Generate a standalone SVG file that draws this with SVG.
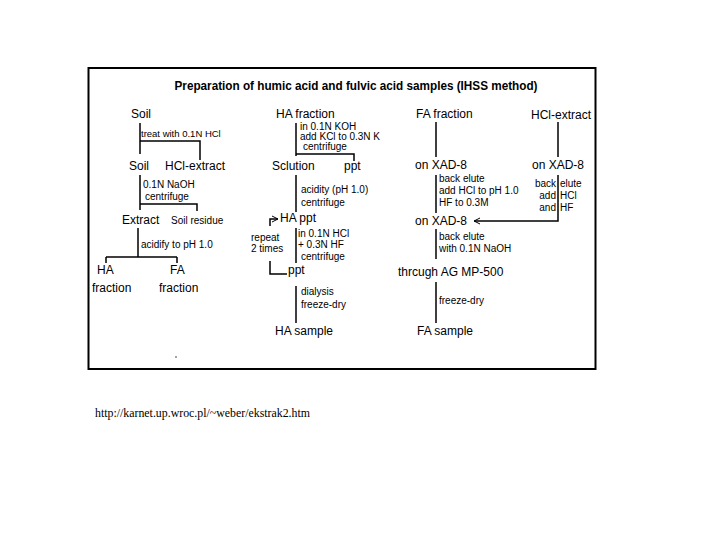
<svg xmlns="http://www.w3.org/2000/svg" width="720" height="540" viewBox="0 0 720 540">
<defs>
<style>
text{font-family:"Liberation Sans",Arial,sans-serif;fill:#000}
.t{font-size:12px}
.s{font-size:10px}
.xs{font-size:9.5px}
.ttl{font-size:12px;font-weight:bold}
.url{font-family:"Liberation Serif","Times New Roman",serif;font-size:12px}
.ln{stroke:#000;stroke-width:1.5;fill:none}
</style>
<marker id="ah" markerWidth="8" markerHeight="8" refX="7" refY="4" orient="auto" markerUnits="userSpaceOnUse">
<path d="M1,1 L7,4 L1,7" fill="none" stroke="#000" stroke-width="1"/>
</marker>
</defs>
<rect width="720" height="540" fill="#fff"/>
<rect x="88.5" y="68" width="507" height="301" fill="none" stroke="#000" stroke-width="2"/>
<text class="ttl" x="356" y="90" text-anchor="middle" textLength="363" lengthAdjust="spacingAndGlyphs">Preparation of humic acid and fulvic acid samples (IHSS method)</text>

<g id="connectors">
<path class="ln" d="M140,123 V154 M140,141 H200 V160"/>
<path class="ln" d="M140,175 V210 M140,204 H197 V211"/>
<path class="ln" d="M138,228 V257 M106,257 H177 M106,257 V263 M177,257 V263"/>
<path class="ln" d="M296,123 V156 M296,154 H354 V161"/>
<path class="ln" d="M296,175 V212"/>
<path class="ln" d="M270,226 V219 H278" marker-end="url(#ah)"/>
<path class="ln" d="M296,228 V263"/>
<path class="ln" d="M270,261 V274 H287"/>
<path class="ln" d="M296,286 V323"/>
<path class="ln" d="M436,122 V157"/>
<path class="ln" d="M436,175 V213"/>
<path class="ln" d="M558,122 V157"/>
<path class="ln" d="M558,175 V221 H474" marker-end="url(#ah)"/>
<path class="ln" d="M436,229 V259"/>
<path class="ln" d="M436,282 V323"/>
</g>

<g id="soil1"><text class="t" x="131" y="118">Soil</text></g>
<g id="lbl-treat"><text class="xs" x="141" y="137">treat with 0.1N HCl</text></g>
<g id="soil2"><text class="t" x="129" y="170">Soil</text></g>
<g id="hcl-extract1"><text class="t" x="165" y="170">HCl-extract</text></g>
<g id="lbl-naoh"><text class="s" x="143" y="188">0.1N NaOH</text><text class="s" x="145" y="200">centrifuge</text></g>
<g id="extract"><text class="t" x="122" y="224">Extract</text></g>
<g id="soil-residue"><text class="s" x="171" y="224">Soil residue</text></g>
<g id="lbl-acidify"><text class="s" x="141" y="248">acidify to pH 1.0</text></g>
<g id="ha-frac1"><text class="t" x="97" y="274">HA</text><text class="t" x="92" y="292">fraction</text></g>
<g id="fa-frac1"><text class="t" x="170" y="274">FA</text><text class="t" x="159" y="292">fraction</text></g>

<g id="ha-fraction"><text class="t" x="276" y="118">HA fraction</text></g>
<g id="lbl-koh"><text class="s" x="300" y="130">in 0.1N KOH</text><text class="s" x="300" y="140">add KCl to 0.3N K</text><text class="s" x="303" y="150">centrifuge</text></g>
<g id="solution"><text class="t" x="272" y="170">Sclution</text></g>
<g id="ppt1"><text class="t" x="344" y="170">ppt</text></g>
<g id="lbl-acidity"><text class="s" x="301" y="193">acidity (pH 1.0)</text><text class="s" x="301" y="206">centrifuge</text></g>
<g id="ha-ppt"><text class="t" x="280" y="222">HA ppt</text></g>
<g id="lbl-repeat"><text class="s" x="251" y="241">repeat</text><text class="s" x="251" y="252">2 times</text></g>
<g id="lbl-hcl-hf"><text class="s" x="298" y="237">in 0.1N HCl</text><text class="s" x="298" y="248">+ 0.3N HF</text><text class="s" x="301" y="260">centrifuge</text></g>
<g id="ppt2"><text class="t" x="288" y="274">ppt</text></g>
<g id="lbl-dialysis"><text class="s" x="301" y="295">dialysis</text><text class="s" x="301" y="308">freeze-dry</text></g>
<g id="ha-sample"><text class="t" x="275" y="335">HA sample</text></g>

<g id="fa-fraction"><text class="t" x="416" y="118">FA fraction</text></g>
<g id="xad1"><text class="t" x="415" y="169">on XAD-8</text></g>
<g id="lbl-elute1"><text class="s" x="439" y="182">back elute</text><text class="s" x="439" y="194">add HCl to pH 1.0</text><text class="s" x="439" y="206">HF to 0.3M</text></g>
<g id="xad3"><text class="t" x="415" y="225">on XAD-8</text></g>
<g id="lbl-elute3"><text class="s" x="439" y="240">back elute</text><text class="s" x="439" y="252">with 0.1N NaOH</text></g>
<g id="mp500"><text class="t" x="398" y="276">thrcugh AG MP-500</text></g>
<g id="lbl-fd"><text class="s" x="439" y="304">freeze-dry</text></g>
<g id="fa-sample"><text class="t" x="417" y="335">FA sample</text></g>

<g id="hcl-extract2"><text class="t" x="531" y="119">HCl-extract</text></g>
<g id="xad2"><text class="t" x="532" y="169">on XAD-8</text></g>
<g id="lbl-elute2"><text class="s" x="556" y="187" text-anchor="end">back</text><text class="s" x="560" y="187">elute</text><text class="s" x="556" y="199" text-anchor="end">add</text><text class="s" x="560" y="199">HCl</text><text class="s" x="556" y="211" text-anchor="end">and</text><text class="s" x="560" y="211">HF</text></g>

<circle cx="176" cy="357" r="0.7" fill="#000"/>
<text class="url" x="95" y="417" textLength="215" lengthAdjust="spacingAndGlyphs">http://karnet.up.wroc.pl/~weber/ekstrak2.htm</text>
</svg>
